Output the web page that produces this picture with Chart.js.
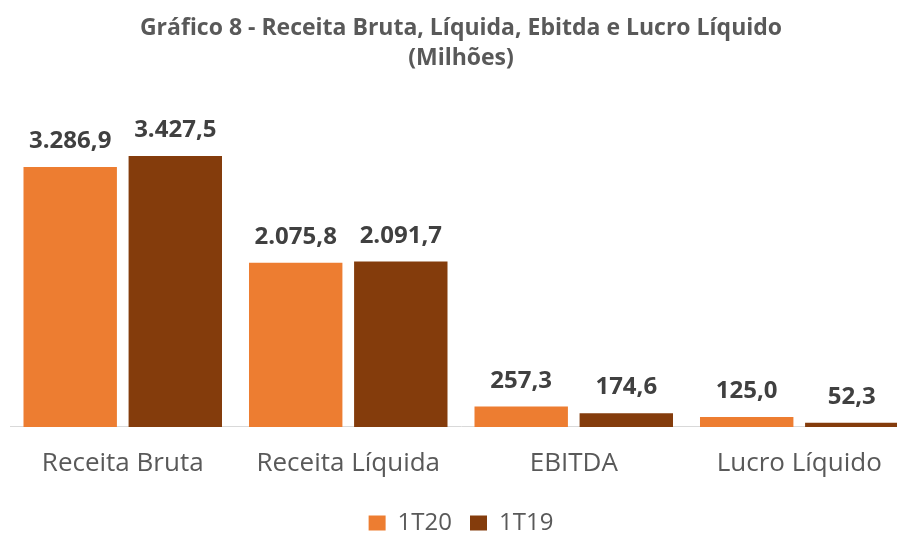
<!DOCTYPE html>
<html>
<head>
<meta charset="utf-8">
<script src="https://cdn.jsdelivr.net/npm/chart.js@4"></script>
<style>
  html, body { margin: 0; padding: 0; background: #fff; overflow: hidden; }
  #wrap { position: absolute; left: 0; top: 0; width: 932px; height: 545px; }
</style>
</head>
<body>
<div id="wrap"><canvas id="chart"></canvas></div>
<script>
const categories = ['Receita Bruta', 'Receita Líquida', 'EBITDA', 'Lucro Líquido'];
const seriesNames = ['1T20', '1T19'];
const values1T20 = [3286.9, 2075.8, 257.3, 125.0];
const values1T19 = [3427.5, 2091.7, 174.6, 52.3];
const titleLines = ['Gráfico 8 - Receita Bruta, Líquida, Ebitda e Lucro Líquido', '(Milhões)'];

const FONT = "'Open Sans', Lato, sans-serif";

// 3.286,9 style
function fmt(v) {
    const parts = v.toFixed(1).split('.');
    const int = parts[0].replace(/\B(?=(\d{3})+(?!\d))/g, '.');
    return int + ',' + parts[1];
}

const valueLabels = {
    id: 'valueLabels',
    afterDatasetsDraw(chart) {
        const { ctx } = chart;
        ctx.save();
        ctx.font = 'bold 24px ' + FONT;
        ctx.fillStyle = '#404040';
        ctx.textAlign = 'center';
        ctx.textBaseline = 'alphabetic';
        chart.data.datasets.forEach((ds, i) => {
            chart.getDatasetMeta(i).data.forEach((bar, j) => {
                ctx.fillText(fmt(ds.data[j]), bar.x, bar.y - 19);
            });
        });
        ctx.restore();
    }
};

new Chart(document.getElementById('chart'), {
    type: 'bar',
    data: {
        labels: categories,
        datasets: [
            { label: seriesNames[0], data: values1T20, backgroundColor: '#ED7D31' },
            { label: seriesNames[1], data: values1T19, backgroundColor: '#843C0C' }
        ]
    },
    options: {
        responsive: true,
        maintainAspectRatio: false,
        animation: false,
        categoryPercentage: 0.932,
        barPercentage: 0.889,
        layout: { padding: { left: 10, right: 20, top: 0, bottom: 0 } },
        scales: {
            x: {
                grid: { display: false },
                border: { display: true, color: '#d9d9d9', width: 1 },
                ticks: { color: '#595959', font: { family: FONT, size: 26, lineHeight: 1.31 }, padding: 12 }
            },
            y: {
                display: false,
                min: 0,
                max: 4225
            }
        },
        plugins: {
            title: {
                display: true,
                text: titleLines,
                color: '#595959',
                font: { family: FONT, size: 23, weight: 'bold', lineHeight: 1.28 },
                padding: { top: 14, bottom: 20 }
            },
            legend: {
                position: 'bottom',
                labels: {
                    color: '#595959',
                    font: { family: FONT, size: 24 },
                    boxWidth: 17,
                    boxHeight: 15,
                    padding: 18
                }
            },
            tooltip: { enabled: false }
        }
    },
    plugins: [valueLabels]
});
</script>
</body>
</html>
